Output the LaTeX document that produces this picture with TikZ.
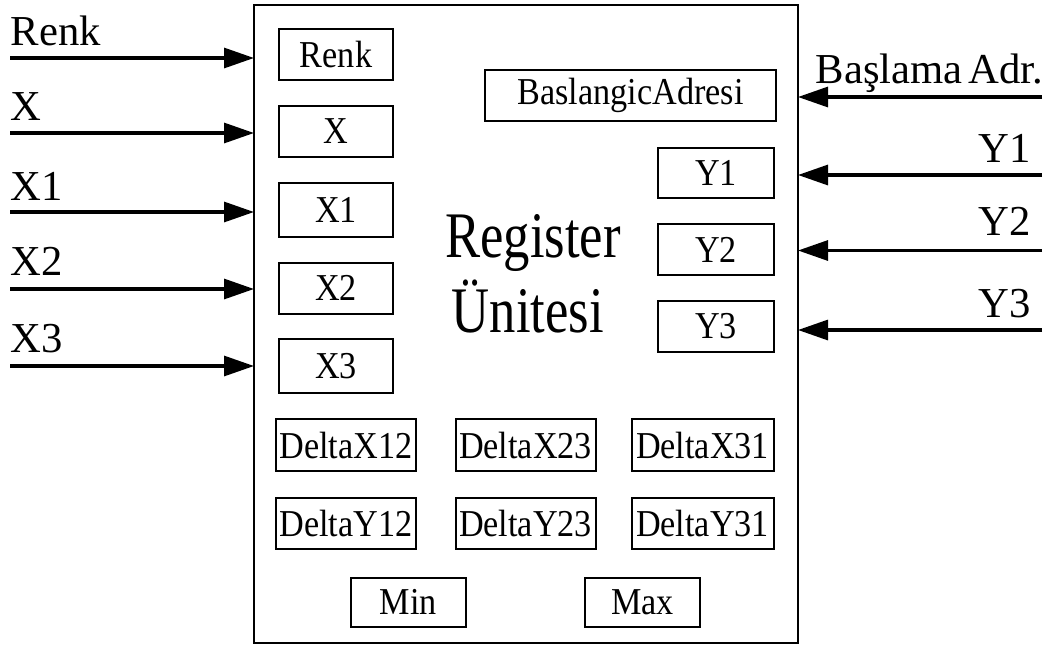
\documentclass[tikz,border=0pt]{standalone}
\usepackage{fontspec}
\setmainfont{Liberation Serif}
\newfontfamily\narrowserif[FakeStretch=0.81]{Liberation Serif}
\newfontfamily\boxserif[FakeStretch=0.9]{Liberation Serif}
\usetikzlibrary{arrows.meta}
\begin{document}
\begin{tikzpicture}[x=0.75pt,y=-0.75pt,
  reg/.style={draw, line width=1.5pt, inner sep=0pt, outer sep=0pt,
              font=\boxserif\fontsize{28.5}{31}\selectfont},
  sz/.style 2 args={minimum width=#1*0.75pt, minimum height=#2*0.75pt},
  lbl/.style={inner sep=0pt, outer sep=0pt, font=\fontsize{32}{34}\selectfont},
  feed/.style={line width=2.3pt, -{Triangle[length=22.5pt,width=15pt]}},
  title/.style={inner sep=0pt, anchor=base, font=\narrowserif\fontsize{48.75}{52}\selectfont},
]
\useasboundingbox (0,0) rectangle (1060,647);

% register unit frame
\node[draw, line width=1.5pt, inner sep=0pt, outer sep=0pt, sz={544}{638}] (unit) at (526,324) {};

% unit title
\node[title] (reg1) at (533,257) {Register};
\node[title] (reg2) at (528,332) {Ünitesi};

% left column registers
\node[reg, sz={114}{51}] (rRenk) at (336,54.5) {Renk};
\node[reg, sz={114}{51}] (rX)    at (336,131.5) {X};
\node[reg, sz={114}{54}] (rX1)   at (336,210) {X1};
\node[reg, sz={114}{51}] (rX2)   at (336,288) {X2};
\node[reg, sz={114}{54}] (rX3)   at (336,366) {X3};

% right column registers
\node[reg, sz={291}{51}] (rAdr) at (630.5,95.5) {BaslangicAdresi};
\node[reg, sz={116}{50}] (rY1)  at (716,173) {Y1};
\node[reg, sz={116}{51}] (rY2)  at (716,249.5) {Y2};
\node[reg, sz={116}{51}] (rY3)  at (716,326.5) {Y3};

% difference registers
\node[reg, sz={140}{52}] (dX12) at (346,445) {DeltaX12};
\node[reg, sz={140}{52}] (dX23) at (525.5,445) {DeltaX23};
\node[reg, sz={142}{52}] (dX31) at (702.5,445) {DeltaX31};
\node[reg, sz={140}{51}] (dY12) at (346,523.5) {DeltaY12};
\node[reg, sz={140}{51}] (dY23) at (525.5,523.5) {DeltaY23};
\node[reg, sz={142}{51}] (dY31) at (702.5,523.5) {DeltaY31};

% extremes
\node[reg, sz={115}{49}] (rMin) at (408.5,602) {Min};
\node[reg, sz={115}{49}] (rMax) at (642.5,602) {Max};

% left inputs
\node[lbl, anchor=base west] (lRenk) at (11,45) {Renk};
\node[lbl, anchor=base west] (lX)    at (11,120) {X};
\node[lbl, anchor=base west] (lX1)   at (11,200) {X1};
\node[lbl, anchor=base west] (lX2)   at (11,275) {X2};
\node[lbl, anchor=base west] (lX3)   at (11,352) {X3};
\coordinate (iRenk) at (10,58);
\coordinate (iX)    at (10,133);
\coordinate (iX1)   at (10,212);
\coordinate (iX2)   at (10,289);
\coordinate (iX3)   at (10,366);
\foreach \c in {iRenk,iX,iX1,iX2,iX3}
  \draw[feed] (\c) -- (\c -| unit.west);

% right inputs
\node[lbl, anchor=base east] (lAdr) at (1043,83) {Başlama\kern-0.12em\ Adr.};
\node[lbl, anchor=base east] (lY1)  at (1031,162) {Y1};
\node[lbl, anchor=base east] (lY2)  at (1031,235) {Y2};
\node[lbl, anchor=base east] (lY3)  at (1031,317) {Y3};
\coordinate (iAdr) at (1042,97);
\coordinate (iY1)  at (1042,175);
\coordinate (iY2)  at (1042,250.5);
\coordinate (iY3)  at (1042,330);
\foreach \c in {iAdr,iY1,iY2,iY3}
  \draw[feed] (\c) -- (\c -| unit.east);
\end{tikzpicture}
\end{document}
